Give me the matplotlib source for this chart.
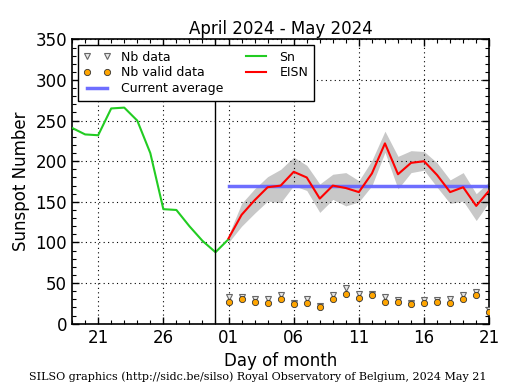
import datetime as dt
import matplotlib
matplotlib.use("Agg")
import matplotlib.pyplot as plt
import matplotlib.dates as mdates
from matplotlib.ticker import MultipleLocator

# Data
sn_dates = [dt.datetime(2024, 4, d) for d in range(19, 31)] + [dt.datetime(2024, 5, 1)]
sn_values = [241, 233, 232, 265, 266, 250, 210, 141, 140, 120, 102, 88, 104]

eisn_dates = [dt.datetime(2024, 5, d) for d in range(1, 22)]
eisn_values = [105, 134, 152, 168, 170, 187, 180, 154, 170, 167, 162, 185, 222,
               184, 198, 200, 183, 162, 168, 145, 164]
eisn_upper = [109, 148, 166, 181, 190, 205, 195, 172, 184, 186, 176, 201, 237,
              206, 213, 212, 198, 177, 186, 160, 175]
eisn_lower = [100, 120, 136, 151, 149, 170, 164, 137, 153, 145, 150, 170, 211,
              166, 186, 189, 168, 148, 151, 127, 150]
nb_data = [33, 33, 30, 31, 35, 25, 30, 22, 35, 44, 37, 37, 33, 29, 25, 29, 29, 30, 35, 39, 17]
nb_valid = [27, 31, 27, 26, 30, 24, 25, 20, 30, 36, 32, 35, 27, 27, 24, 26, 27, 26, 30, 35, 15]
current_average = 169

xticks = [dt.datetime(2024, 4, 21), dt.datetime(2024, 4, 26), dt.datetime(2024, 5, 1),
          dt.datetime(2024, 5, 6), dt.datetime(2024, 5, 11), dt.datetime(2024, 5, 16),
          dt.datetime(2024, 5, 21)]

fig = plt.figure(figsize=(5.15, 3.9), dpi=100)
ax = fig.add_axes([0.140, 0.170, 0.810, 0.729])

ax.fill_between(eisn_dates, eisn_lower, eisn_upper, color="#c8c8c8", lw=0, zorder=1)
ax.plot(sn_dates, sn_values, color="#22cc22", lw=1.5, label="Sn", zorder=3)
ax.plot(eisn_dates, eisn_values, color="red", lw=1.5, label="EISN", zorder=4)
ax.plot([eisn_dates[0], eisn_dates[-1]], [current_average, current_average],
        color="#6666ff", lw=2.5, alpha=0.95, label="Current average", zorder=2)
ax.plot(eisn_dates, nb_data, ls="none", marker="v", ms=4, mfc="#e8e8e8", mec="#666666",
        mew=0.8, label="Nb data", zorder=5)
ax.plot(eisn_dates, nb_valid, ls="none", marker="o", ms=4.5, mfc="#ffa500", mec="#333333",
        mew=0.6, label="Nb valid data", zorder=6)
ax.axvline(dt.datetime(2024, 4, 30), color="black", lw=1.0, zorder=3)

ax.set_xlim(dt.datetime(2024, 4, 19), dt.datetime(2024, 5, 21))
ax.set_ylim(0, 350)
ax.set_xticks(xticks)
ax.xaxis.set_major_formatter(mdates.DateFormatter("%d"))
ax.xaxis.set_minor_locator(mdates.DayLocator())
ax.yaxis.set_major_locator(MultipleLocator(50))
ax.yaxis.set_minor_locator(MultipleLocator(10))
ax.tick_params(which="both", direction="in", top=True, right=True, labelsize=12)
ax.tick_params(which="major", length=5, width=1)
ax.tick_params(which="minor", length=3, width=0.8)
ax.grid(True, which="major", color="black", ls=(0, (1, 3)), lw=0.8)
for s in ax.spines.values():
    s.set_linewidth(1.2)

ax.set_title("April 2024 - May 2024", fontsize=12, pad=4)
ax.set_xlabel("Day of month", fontsize=12)
ax.set_ylabel("Sunspot Number", fontsize=12)

h, l = ax.get_legend_handles_labels()
order = [l.index(n) for n in ["Nb data", "Nb valid data", "Current average", "Sn", "EISN"]]
leg = ax.legend([h[i] for i in order], [l[i] for i in order], ncol=2, loc="upper left",
                fontsize=9, numpoints=2, fancybox=False, edgecolor="black", framealpha=1,
                borderaxespad=0.45, handlelength=2.2, columnspacing=1.5, labelspacing=0.22,
                borderpad=0.45, handletextpad=0.8)
leg.get_frame().set_linewidth(1.0)

fig.text(0.5, 0.02, "SILSO graphics (http://sidc.be/silso) Royal Observatory of Belgium, 2024 May 21",
         ha="center", va="bottom", fontsize=8, family="DejaVu Serif")

fig.savefig("out.png", dpi=100)
